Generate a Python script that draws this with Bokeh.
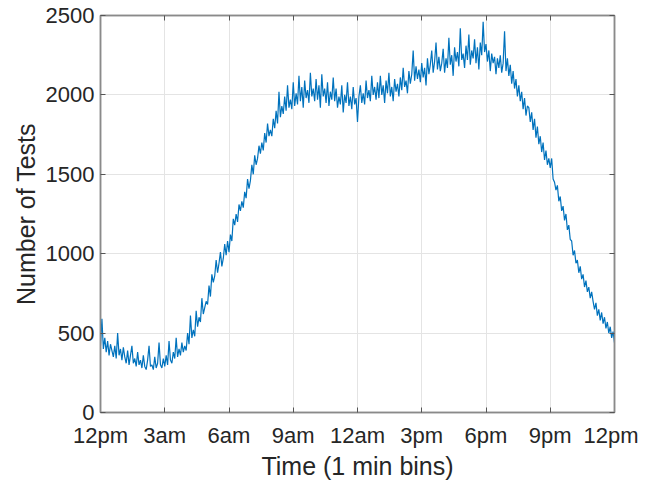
from bokeh.plotting import figure
from bokeh.models import FixedTicker, LinearAxis, Range1d, CustomJSTickFormatter
from bokeh.embed import file_html
from bokeh.resources import INLINE

# ---- data ----
x_ticks = [0, 180, 360, 540, 720, 900, 1080, 1260, 1440]
x_tick_labels = ["12pm", "3am", "6am", "9am", "12am", "3pm", "6pm", "9pm", "12pm"]
y_ticks = [0, 500, 1000, 1500, 2000, 2500]

# minute bins (sampled every 4 minutes)
minutes = list(range(0, 1441, 4))

tests = [
    # hour 0
    420, 590, 400, 470, 380, 450, 360, 430, 390, 350, 420, 340, 500, 360, 400,
    # hour 1
    330, 410, 350, 310, 390, 300, 360, 420, 310, 340, 290, 380, 300, 330, 280,
    # hour 2
    360, 290, 270, 330, 420, 290, 300, 270, 350, 280, 310, 440, 300, 280, 340,
    # hour 3
    290, 360, 300, 450, 330, 310, 380, 340, 470, 350, 400, 360, 440, 380, 420,
    # hour 4
    390, 500, 430, 610, 470, 520, 480, 640, 540, 600, 570, 720, 620, 660, 700,
    # hour 5
    680, 800, 730, 870, 820, 860, 960, 880, 940, 1010, 920, 970, 1060, 990, 1080,
    # hour 6
    1010, 1120, 1080, 1220, 1180, 1250, 1200, 1310, 1270, 1330, 1290, 1390, 1350, 1470, 1410,
    # hour 7
    1460, 1560, 1500, 1620, 1560, 1600, 1680, 1630, 1700, 1650, 1760, 1700, 1820, 1740, 1780,
    # hour 8
    1740, 1850, 1790, 1900, 1820, 2020, 1860, 1930, 1880, 1990, 1900, 2060, 1920, 1970, 1910,
    # hour 9
    2080, 1930, 2010, 1940, 2120, 1960, 2050, 1920, 2090, 1980, 2030, 1950, 2140, 1990, 2040,
    # hour 10
    1960, 2100, 1970, 2060, 1920, 2130, 1990, 2040, 1950, 2080, 1930, 2020, 1970, 2110, 1960,
    # hour 11
    2040, 1920, 1990, 1940, 2060, 1890, 2000, 1950, 2080, 1930, 1990, 1910, 2050, 1940, 1980,
    # hour 12
    1830, 1990, 2060, 1950, 2010, 1940, 2090, 1980, 2030, 1960, 2120, 2000, 2050, 1970, 2080,
    # hour 13
    1980, 2120, 2000, 2060, 1950, 2090, 2010, 2140, 1990, 2050, 1960, 2100, 2020, 2070, 1990,
    # hour 14
    2110, 2030, 2170, 2050, 2090, 2010, 2150, 2070, 2130, 2280, 2090, 2180, 2100, 2160, 2080,
    # hour 15
    2200, 2110, 2170, 2060, 2230, 2130, 2190, 2280, 2140, 2210, 2330, 2160, 2240, 2150, 2200,
    # hour 16
    2290, 2140, 2230, 2170, 2360, 2190, 2250, 2120, 2300, 2210, 2270, 2180, 2420, 2220, 2260,
    # hour 17
    2170, 2310, 2220, 2380, 2190, 2280, 2230, 2350, 2200, 2300, 2160, 2330, 2250, 2460, 2270,
    # hour 18
    2320, 2210, 2280, 2150, 2260, 2200, 2240, 2130, 2230, 2170, 2250, 2140, 2200, 2400, 2150,
    # hour 19
    2230, 2120, 2190, 2070, 2150, 2040, 2100, 1990, 2060, 1960, 2020, 1910, 1980, 1870, 1930,
    # hour 20
    1920, 1830, 1890, 1780, 1850, 1730, 1800, 1690, 1740, 1640, 1700, 1590, 1650, 1560, 1600,
    # hour 21
    1540, 1600, 1470, 1450, 1400, 1430, 1330, 1360, 1270, 1300, 1210, 1250, 1150, 1180, 1090,
    # hour 22
    1080, 990, 1020, 940, 960, 880, 920, 840, 870, 790, 830, 760, 790, 720, 760,
    # hour 23 (+ final bin)
    700, 650, 690, 610, 650, 580, 630, 560, 600, 530, 570, 500, 540, 470, 510, 440,
]

# ---- style ----
FONT = "Liberation Sans"
TXT = "#262626"
AX = "#8a8a8a"
GRID = "#e4e4e4"

p = figure(
    width=638, height=482,
    output_backend="svg", toolbar_location=None,
    x_range=Range1d(0, 1440), y_range=Range1d(0, 2500),
    x_axis_label="Time (1 min bins)", y_axis_label="Number of Tests",
    min_border_left=100, min_border_right=24, min_border_top=15, min_border_bottom=70,
)
p.background_fill_color = "white"
p.border_fill_color = "white"
p.outline_line_color = AX
p.outline_line_width = 1.5

p.line(minutes, tests, line_color="#0072BD", line_width=1.2)

bottom_ax = p.below[0]
left_ax = p.left[0]

# top / right axes for inward box ticks (no labels)
top_ax = LinearAxis(formatter=CustomJSTickFormatter(code="return ''"))
right_ax = LinearAxis(formatter=CustomJSTickFormatter(code="return ''"))
p.add_layout(top_ax, "above")
p.add_layout(right_ax, "right")

bottom_ax.ticker = FixedTicker(ticks=x_ticks)
top_ax.ticker = FixedTicker(ticks=x_ticks)
left_ax.ticker = FixedTicker(ticks=y_ticks)
right_ax.ticker = FixedTicker(ticks=y_ticks)

bottom_ax.major_label_overrides = {t: l for t, l in zip(x_ticks, x_tick_labels)}

for ax in (bottom_ax, left_ax, top_ax, right_ax):
    ax.axis_line_color = AX
    ax.axis_line_width = 1.5
    ax.major_tick_line_color = "#555555"
    ax.major_tick_in = 5
    ax.major_tick_out = 0
    ax.minor_tick_line_color = None
    ax.major_label_text_font = FONT
    ax.major_label_text_font_size = "22px"
    ax.major_label_text_color = TXT
    ax.axis_label_text_font = FONT
    ax.axis_label_text_font_size = "25px"
    ax.axis_label_text_color = TXT
    ax.axis_label_text_font_style = "normal"

for ax in (top_ax, right_ax):
    ax.major_label_standoff = 0

bottom_ax.major_label_standoff = 10
bottom_ax.axis_label_standoff = 1
left_ax.major_label_standoff = 6
left_ax.axis_label_standoff = 3

p.xgrid.ticker = FixedTicker(ticks=x_ticks)
p.ygrid.ticker = FixedTicker(ticks=y_ticks)
p.grid.grid_line_color = GRID
p.grid.grid_line_width = 1

open("out.html", "w").write(file_html(p, INLINE))
